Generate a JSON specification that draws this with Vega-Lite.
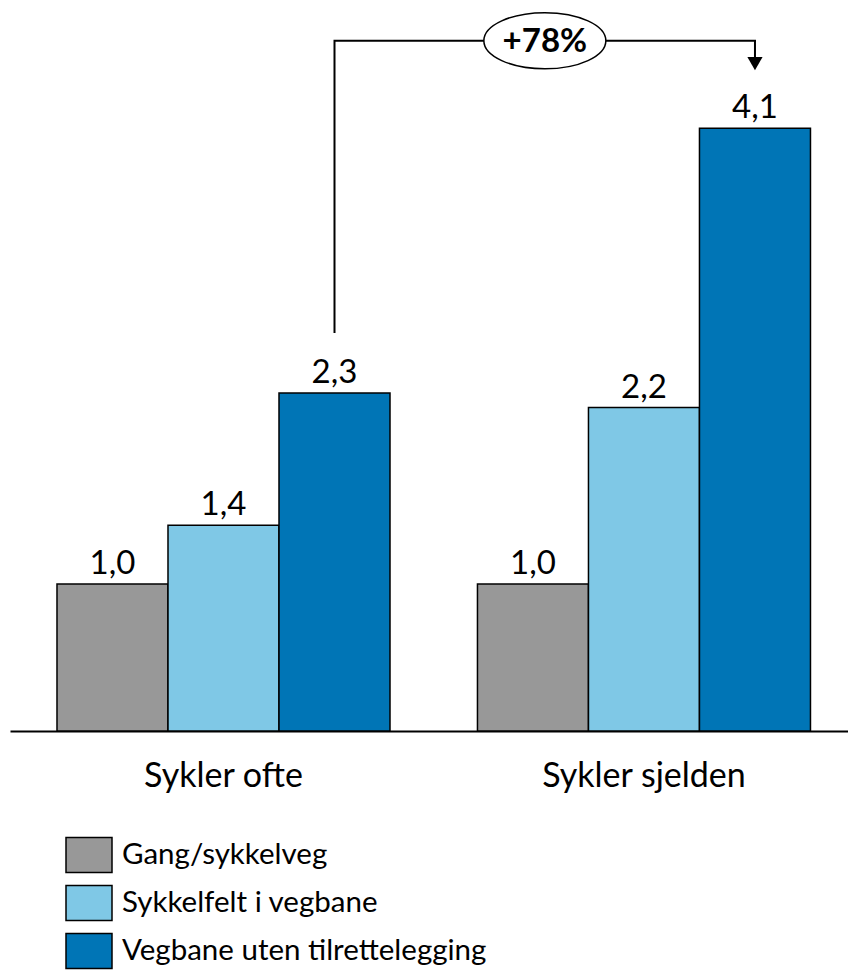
{
  "$schema": "https://vega.github.io/schema/vega-lite/v6.json",
  "width": 838,
  "height": 731,
  "autosize": {"type": "none"},
  "padding": {"left": 10, "top": 0, "right": 0, "bottom": 239},
  "config": {
    "view": {"stroke": null},
    "font": "Lato",
    "locale": {
      "number": {"decimal": ",", "thousands": " ", "grouping": [3], "currency": ["", " kr"]}
    }
  },
  "datasets": {
    "bars": [
      {"gruppe": "Sykler ofte", "veg": "Gang/sykkelveg", "verdi": 1.0},
      {"gruppe": "Sykler ofte", "veg": "Sykkelfelt i vegbane", "verdi": 1.4},
      {"gruppe": "Sykler ofte", "veg": "Vegbane uten tilrettelegging", "verdi": 2.3},
      {"gruppe": "Sykler sjelden", "veg": "Gang/sykkelveg", "verdi": 1.0},
      {"gruppe": "Sykler sjelden", "veg": "Sykkelfelt i vegbane", "verdi": 2.2},
      {"gruppe": "Sykler sjelden", "veg": "Vegbane uten tilrettelegging", "verdi": 4.1}
    ],
    "connector": [
      {"gruppe": "Sykler ofte", "veg": "Vegbane uten tilrettelegging", "nivaa": 2.707, "steg": 1},
      {"gruppe": "Sykler ofte", "veg": "Vegbane uten tilrettelegging", "nivaa": 4.696, "steg": 2},
      {"gruppe": "Sykler sjelden", "veg": "Vegbane uten tilrettelegging", "nivaa": 4.696, "steg": 3},
      {"gruppe": "Sykler sjelden", "veg": "Vegbane uten tilrettelegging", "nivaa": 4.58, "steg": 4}
    ],
    "arrow": [
      {"gruppe": "Sykler sjelden", "veg": "Vegbane uten tilrettelegging", "nivaa": 4.54}
    ],
    "badge": [
      {"gruppe": "Sykler ofte", "nivaa": 4.696, "tekst": "+78%"}
    ]
  },
  "layer": [
    {
      "data": {"name": "bars"},
      "mark": {"type": "bar", "stroke": "black", "strokeWidth": 1.5, "opacity": 1},
      "encoding": {
        "x": {
          "field": "gruppe", "type": "nominal",
          "sort": ["Sykler ofte", "Sykler sjelden"],
          "scale": {"paddingInner": 0.208, "paddingOuter": 0.1005, "align": 0.556},
          "axis": {
            "title": null, "ticks": false, "domain": true, "domainColor": "black",
            "domainWidth": 2, "labelAngle": 0, "labelFont": "Lato", "labelFontSize": 34,
            "labelColor": "black", "labelPadding": 28, "labelLimit": 0
          }
        },
        "xOffset": {
          "field": "veg", "type": "nominal",
          "sort": ["Gang/sykkelveg", "Sykkelfelt i vegbane", "Vegbane uten tilrettelegging"],
          "scale": {"paddingInner": 0, "paddingOuter": 0}
        },
        "y": {
          "field": "verdi", "type": "quantitative",
          "scale": {"domain": [0, 4.973], "nice": false, "zero": true},
          "axis": null
        },
        "color": {
          "field": "veg", "type": "nominal",
          "scale": {
            "domain": ["Gang/sykkelveg", "Sykkelfelt i vegbane", "Vegbane uten tilrettelegging"],
            "range": ["#989898", "#7fc8e6", "#0075b6"]
          },
          "legend": {
            "title": null, "orient": "none", "legendX": 55, "legendY": 831,
            "symbolType": "M-1,-0.76H1V0.76H-1Z", "symbolSize": 2116,
            "symbolStrokeColor": "black", "symbolStrokeWidth": 1.5, "symbolOpacity": 1,
            "labelFont": "Lato", "labelFontSize": 29.5, "labelColor": "black",
            "labelOffset": 9, "rowPadding": 3, "padding": 0, "labelLimit": 0
          }
        }
      }
    },
    {
      "data": {"name": "bars"},
      "mark": {"type": "text", "baseline": "alphabetic", "dy": -10, "fontSize": 33, "font": "Lato", "color": "black"},
      "encoding": {
        "x": {"field": "gruppe", "type": "nominal", "sort": ["Sykler ofte", "Sykler sjelden"]},
        "xOffset": {"field": "veg", "type": "nominal", "sort": ["Gang/sykkelveg", "Sykkelfelt i vegbane", "Vegbane uten tilrettelegging"]},
        "y": {"field": "verdi", "type": "quantitative"},
        "text": {"field": "verdi", "type": "quantitative", "format": ".1f"}
      }
    },
    {
      "data": {"name": "connector"},
      "mark": {"type": "line", "color": "black", "strokeWidth": 2, "interpolate": "linear"},
      "encoding": {
        "x": {"field": "gruppe", "type": "nominal", "sort": ["Sykler ofte", "Sykler sjelden"]},
        "xOffset": {"field": "veg", "type": "nominal", "sort": ["Gang/sykkelveg", "Sykkelfelt i vegbane", "Vegbane uten tilrettelegging"]},
        "y": {"field": "nivaa", "type": "quantitative"},
        "order": {"field": "steg", "type": "quantitative"}
      }
    },
    {
      "data": {"name": "arrow"},
      "mark": {"type": "point", "shape": "triangle-down", "filled": true, "color": "black", "size": 230, "opacity": 1},
      "encoding": {
        "x": {"field": "gruppe", "type": "nominal", "sort": ["Sykler ofte", "Sykler sjelden"]},
        "xOffset": {"field": "veg", "type": "nominal", "sort": ["Gang/sykkelveg", "Sykkelfelt i vegbane", "Vegbane uten tilrettelegging"]},
        "y": {"field": "nivaa", "type": "quantitative"}
      }
    },
    {
      "data": {"name": "badge"},
      "mark": {
        "type": "point",
        "shape": "M-1,0C-1,-0.254,-0.552,-0.46,0,-0.46C0.552,-0.46,1,-0.254,1,0C1,0.254,0.552,0.46,0,0.46C-0.552,0.46,-1,0.254,-1,0Z",
        "filled": true, "fill": "white", "stroke": "black", "strokeWidth": 1.5,
        "size": 14884, "opacity": 1
      },
      "encoding": {
        "x": {"field": "gruppe", "type": "nominal", "bandPosition": 1.465, "sort": ["Sykler ofte", "Sykler sjelden"]},
        "y": {"field": "nivaa", "type": "quantitative"}
      }
    },
    {
      "data": {"name": "badge"},
      "mark": {"type": "text", "fontWeight": "bold", "fontSize": 33, "font": "Lato", "color": "black", "baseline": "middle", "align": "center", "dy": 1},
      "encoding": {
        "x": {"field": "gruppe", "type": "nominal", "bandPosition": 1.465, "sort": ["Sykler ofte", "Sykler sjelden"]},
        "y": {"field": "nivaa", "type": "quantitative"},
        "text": {"field": "tekst", "type": "nominal"}
      }
    }
  ]
}
